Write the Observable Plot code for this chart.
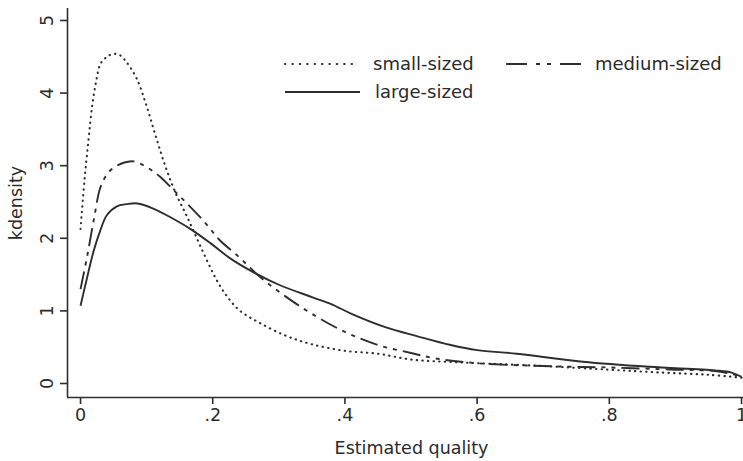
<!DOCTYPE html>
<html>
<head>
<meta charset="utf-8">
<script src="https://cdn.jsdelivr.net/npm/d3@7"></script>
<script src="https://cdn.jsdelivr.net/npm/@observablehq/plot@0.6"></script>
<style>
  html, body { margin: 0; padding: 0; background: #fff; }
  #wrap { position: relative; width: 743px; height: 461px; }
  #legend { position: absolute; left: 0; top: 0; pointer-events: none; }
</style>
</head>
<body>
<div id="wrap"></div>
<script>
// ---- data ----
const seriesNames = ["small-sized", "medium-sized", "large-sized"];

const smallX = [0, 0.006, 0.012, 0.018, 0.024, 0.03, 0.04, 0.05, 0.06, 0.07, 0.085, 0.1, 0.115, 0.13, 0.145, 0.16, 0.175, 0.19, 0.205, 0.22, 0.24, 0.27, 0.31, 0.35, 0.40, 0.45, 0.50, 0.55, 0.60, 0.70, 0.80, 0.88, 0.95, 1.0];
const smallY = [2.13, 2.8, 3.35, 3.85, 4.18, 4.4, 4.5, 4.54, 4.52, 4.42, 4.2, 3.82, 3.37, 2.95, 2.6, 2.32, 2.02, 1.72, 1.44, 1.22, 1.01, 0.84, 0.66, 0.54, 0.45, 0.41, 0.33, 0.30, 0.28, 0.24, 0.19, 0.15, 0.12, 0.08];

const mediumX = [0, 0.01, 0.02, 0.03, 0.04, 0.05, 0.065, 0.08, 0.1, 0.12, 0.14, 0.16, 0.19, 0.21, 0.24, 0.27, 0.31, 0.35, 0.40, 0.45, 0.50, 0.54, 0.60, 0.70, 0.80, 0.90, 0.96, 1.0];
const mediumY = [1.3, 1.75, 2.25, 2.7, 2.88, 2.97, 3.04, 3.06, 2.98, 2.85, 2.67, 2.49, 2.2, 1.98, 1.74, 1.48, 1.2, 0.96, 0.71, 0.53, 0.42, 0.34, 0.28, 0.24, 0.22, 0.19, 0.17, 0.1];

const largeX = [0, 0.01, 0.02, 0.03, 0.04, 0.055, 0.07, 0.086, 0.11, 0.136, 0.166, 0.197, 0.227, 0.262, 0.3, 0.35, 0.38, 0.41, 0.46, 0.51, 0.56, 0.60, 0.66, 0.76, 0.86, 0.96, 0.985, 1.0];
const largeY = [1.07, 1.46, 1.83, 2.11, 2.32, 2.44, 2.47, 2.48, 2.41, 2.29, 2.13, 1.93, 1.72, 1.53, 1.36, 1.19, 1.09, 0.96, 0.78, 0.65, 0.53, 0.46, 0.41, 0.30, 0.23, 0.18, 0.15, 0.09];

const xTicks = [0, 0.2, 0.4, 0.6, 0.8, 1];
const xTickLabels = ["0", ".2", ".4", ".6", ".8", "1"];
const yTicks = [0, 1, 2, 3, 4, 5];
const yTickLabels = ["0", "1", "2", "3", "4", "5"];
const xTitle = "Estimated quality";
const yTitle = "kdensity";

// ---- styles ----
const ink = "#2e2e2e";
const textInk = "#2b2b2b";
const font = "DejaVu Sans, Liberation Sans, sans-serif";
const fs = 17.5;
const dashes = {
  "small-sized": "0.4,5.2",
  "medium-sized": "18,6,4,6,4,6",
  "large-sized": null
};

const xDomain = [-0.0197, 1.003];
const yDomain = [-0.193, 5.165];

const toRows = (xs, ys) => xs.map((x, i) => ({x, y: ys[i]}));
const rows = {
  "small-sized": toRows(smallX, smallY),
  "medium-sized": toRows(mediumX, mediumY),
  "large-sized": toRows(largeX, largeY)
};

const lineMarks = seriesNames.map(name =>
  Plot.line(rows[name], {
    x: "x", y: "y", curve: "catmull-rom",
    stroke: ink,
    strokeWidth: name === "small-sized" ? 2.1 : 1.9,
    strokeDasharray: dashes[name],
    strokeLinecap: name === "small-sized" ? "round" : "butt"
  })
);

const chart = Plot.plot({
  width: 743, height: 461,
  marginLeft: 67, marginRight: 0, marginTop: 8, marginBottom: 64,
  x: {domain: xDomain},
  y: {domain: yDomain},
  style: {fontFamily: font, fontSize: fs + "px", color: textInk, background: "#fff"},
  marks: [
    Plot.ruleX([xDomain[0]], {stroke: ink, strokeWidth: 1.6}),
    Plot.ruleY([yDomain[0]], {stroke: ink, strokeWidth: 1.6}),
    Plot.axisX({ticks: xTicks, tickSize: 7, tickPadding: 4, stroke: ink, strokeWidth: 1.6,
      tickFormat: d => xTickLabels[xTicks.indexOf(d)], label: null, fontSize: fs, fill: textInk}),
    Plot.axisY({ticks: yTicks, tickSize: 7, stroke: ink, strokeWidth: 1.6,
      tickFormat: () => "", label: null}),
    Plot.text(yTicks, {y: d => d, text: (d, i) => yTickLabels[i], frameAnchor: "left",
      dx: -15, rotate: -90, textAnchor: "middle", lineAnchor: "bottom", fontSize: fs, fill: textInk}),
    Plot.text([yTitle], {text: d => d, frameAnchor: "left", dx: -46, rotate: -90,
      textAnchor: "middle", lineAnchor: "bottom", fontSize: fs, fill: textInk}),
    Plot.text([xTitle], {text: d => d, frameAnchor: "bottom", dx: 6, dy: 56,
      textAnchor: "middle", lineAnchor: "bottom", fontSize: fs, fill: textInk}),
    ...lineMarks
  ]
});

const wrap = document.getElementById("wrap");
wrap.appendChild(chart);

// ---- legend (overlay inside plot region) ----
const legendItems = [
  {name: "small-sized", x0: 285, x1: 358, y: 64},
  {name: "medium-sized", x0: 506, x1: 582, y: 64},
  {name: "large-sized", x0: 285, x1: 360, y: 92}
];
const legend = d3.select(wrap).append("svg")
  .attr("id", "legend").attr("width", 743).attr("height", 461);
const g = legend.selectAll("g").data(legendItems).join("g");
g.append("line")
  .attr("x1", d => d.x0).attr("x2", d => d.x1)
  .attr("y1", d => d.y).attr("y2", d => d.y)
  .attr("stroke", ink)
  .attr("stroke-width", d => d.name === "small-sized" ? 2.1 : 1.9)
  .attr("stroke-linecap", d => d.name === "small-sized" ? "round" : "butt")
  .attr("stroke-dasharray", d => d.name === "medium-sized" ? "21,9,4,7,4,9" : (d.name === "small-sized" ? "0.4,7" : null));
g.append("text")
  .attr("x", d => d.x1 + (d.name === "medium-sized" ? 13 : 15))
  .attr("y", d => d.y).attr("dy", "0.36em")
  .attr("font-family", font).attr("font-size", 18).attr("fill", textInk)
  .text(d => d.name);
</script>
</body>
</html>
